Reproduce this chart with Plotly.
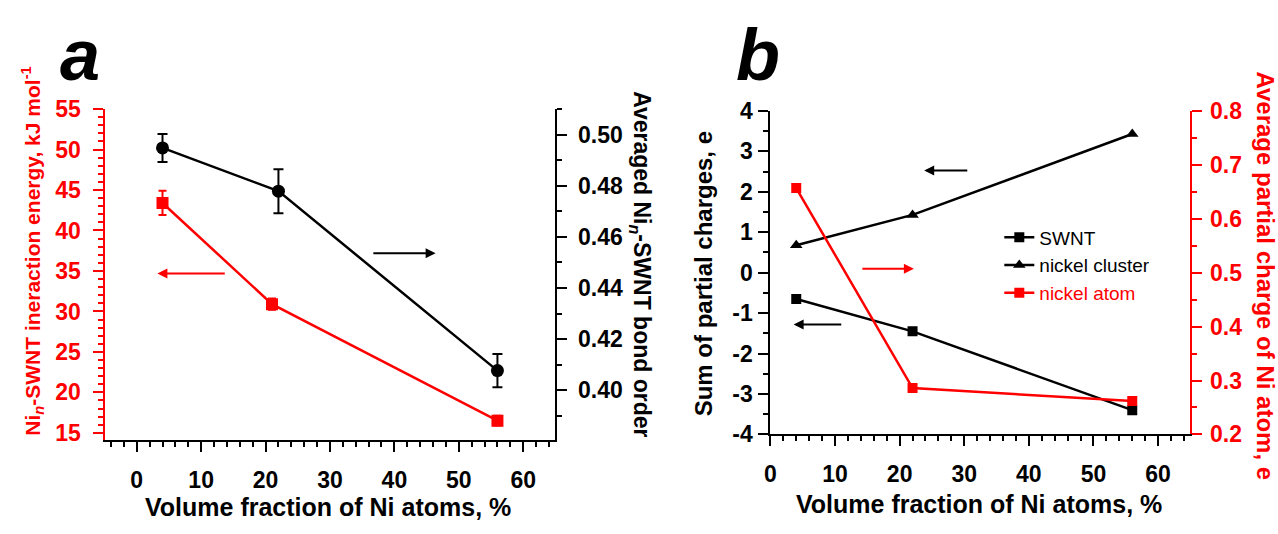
import plotly.graph_objects as go

# ---------------- data ----------------
# panel a
a_x_energy = [4, 21, 56]
a_energy = [43.4, 30.9, 16.5]
a_energy_err = [1.5, 0.7, 0.6]
a_x_bond = [4, 22, 56]
a_bond = [0.4948, 0.4779, 0.4077]
a_bond_err = [0.0055, 0.0086, 0.0065]

# panel b
b_x = [4, 22, 56]
b_swnt = [-0.65, -1.45, -3.40]
b_cluster = [0.68, 1.43, 3.43]
b_atom = [0.657, 0.286, 0.262]

x_ticks = [0, 10, 20, 30, 40, 50, 60]
a_left_ticks = [15, 20, 25, 30, 35, 40, 45, 50, 55]
a_right_ticks = [0.38, 0.40, 0.42, 0.44, 0.46, 0.48, 0.50]
b_left_ticks = [-4, -3, -2, -1, 0, 1, 2, 3, 4]
b_right_ticks = [0.2, 0.3, 0.4, 0.5, 0.6, 0.7, 0.8]

FONT = "Liberation Sans, Arial, sans-serif"
RED = "#ff0000"
BLK = "#000000"

W, H = 1278, 534


def sx(p):  # screen x pixel -> paper
    return p / W


def sy(p):  # screen y pixel -> paper
    return 1 - p / H


fig = go.Figure()

# ---- panel a ----
fig.add_trace(go.Scatter(
    x=a_x_energy, y=a_energy, mode="lines+markers",
    line=dict(color=RED, width=2.5),
    marker=dict(symbol="square", size=12, color=RED),
    error_y=dict(type="data", array=a_energy_err, color=RED, thickness=2, width=4),
    xaxis="x", yaxis="y", showlegend=False))
fig.add_trace(go.Scatter(
    x=a_x_bond, y=a_bond, mode="lines+markers",
    line=dict(color=BLK, width=2.5),
    marker=dict(symbol="circle", size=13, color=BLK),
    error_y=dict(type="data", array=a_bond_err, color=BLK, thickness=2, width=5),
    xaxis="x", yaxis="y2", showlegend=False))

# ---- panel b ----
fig.add_trace(go.Scatter(
    x=b_x, y=b_swnt, mode="lines+markers", name="SWNT",
    line=dict(color=BLK, width=2.5),
    marker=dict(symbol="square", size=10, color=BLK),
    xaxis="x2", yaxis="y3"))
fig.add_trace(go.Scatter(
    x=b_x, y=b_cluster, mode="lines+markers", name="nickel cluster",
    line=dict(color=BLK, width=2.5),
    marker=dict(symbol="triangle-up", size=11, color=BLK),
    xaxis="x2", yaxis="y3"))
fig.add_trace(go.Scatter(
    x=b_x, y=b_atom, mode="lines+markers",
    name="<span style='color:#ff0000'>nickel atom</span>",
    line=dict(color=RED, width=2.5),
    marker=dict(symbol="square", size=10, color=RED),
    xaxis="x2", yaxis="y4"))

TICKSIZE = 23


def bold(vals, fmt):
    return ["<b>" + fmt.format(v) + "</b>" for v in vals]


def xax(domain, rng, anchor):
    return dict(
        domain=domain, range=rng, anchor=anchor,
        tickmode="array", tickvals=x_ticks, ticktext=bold(x_ticks, "{}"),
        showline=True, linecolor=BLK, linewidth=2,
        ticks="outside", ticklen=10, tickwidth=2, tickcolor=BLK,
        ticklabelstandoff=8,
        minor=dict(dtick=2, tick0=0, ticks="outside", ticklen=5, tickwidth=2, tickcolor=BLK),
        tickfont=dict(family=FONT, size=TICKSIZE, color=BLK),
        showgrid=False, zeroline=False, mirror=False)


def yax(domain, rng, vals, fmt, minor_dtick, tick0, color, side, anchor, standoff, overlaying=None):
    d = dict(
        domain=domain, range=rng, anchor=anchor, side=side,
        tickmode="array", tickvals=vals, ticktext=bold(vals, fmt),
        showline=True, linecolor=color, linewidth=2,
        ticks="outside", ticklen=10, tickwidth=2, tickcolor=color,
        ticklabelstandoff=standoff,
        minor=dict(dtick=minor_dtick, tick0=tick0, ticks="outside", ticklen=5, tickwidth=2, tickcolor=color),
        tickfont=dict(family=FONT, size=TICKSIZE, color=color),
        showgrid=False, zeroline=False, mirror=False)
    if overlaying:
        d["overlaying"] = overlaying
    return d


dom_ax = [sx(99), sx(552)]
dom_ay = [sy(449), sy(101)]
dom_bx = [sx(768), sx(1190)]
dom_by = [sy(443), sy(103)]

fig.update_layout(
    width=W, height=H,
    margin=dict(l=0, r=0, t=0, b=0),
    paper_bgcolor="white", plot_bgcolor="rgba(0,0,0,0)",
    font=dict(family=FONT, color=BLK),
    xaxis=xax(dom_ax, [-5, 65], "y"),
    yaxis=yax(dom_ay, [14.1, 55], a_left_ticks, "{}", 1, 15, RED, "left", "x", 7),
    yaxis2=yax(dom_ay, [0.3805, 0.51], a_right_ticks, "{:.2f}", 0.01, 0.38, BLK, "right", "x", 6,
               overlaying="y"),
    xaxis2=xax(dom_bx, [0, 65], "y3"),
    yaxis3=yax(dom_by, [-4, 4], b_left_ticks, "{}", 0.5, 0, BLK, "left", "x2", 1),
    yaxis4=yax(dom_by, [0.2, 0.8], b_right_ticks, "{:.1f}", 0.05, 0.2, RED, "right", "x2", 3,
               overlaying="y3"),
    legend=dict(x=sx(998), y=sy(216), xanchor="left", yanchor="top",
                bgcolor="rgba(0,0,0,0)", font=dict(family=FONT, size=19, color=BLK),
                tracegroupgap=0),
)

ann = []
# panel letters
ann.append(dict(text="<b><i>a</i></b>", x=sx(74), y=1, xref="paper", yref="paper",
                showarrow=False, font=dict(family=FONT, size=72, color=BLK),
                xanchor="center", yanchor="top"))
ann.append(dict(text="<b><i>b</i></b>", x=sx(756), y=1, xref="paper", yref="paper",
                showarrow=False, font=dict(family=FONT, size=72, color=BLK),
                xanchor="center", yanchor="top"))
# axis titles
ann.append(dict(text="<b>Volume fraction of Ni atoms, %</b>", x=sx(324), y=sy(519),
                xref="paper", yref="paper", showarrow=False,
                font=dict(family=FONT, size=25, color=BLK), xanchor="center", yanchor="middle"))
ann.append(dict(text="<b>Volume fraction of Ni atoms, %</b>", x=sx(978), y=sy(516),
                xref="paper", yref="paper", showarrow=False,
                font=dict(family=FONT, size=25, color=BLK), xanchor="center", yanchor="middle"))
ann.append(dict(text="<b>Ni<sub><i>n</i></sub>-SWNT ineraction energy, kJ mol<sup>-1</sup></b>",
                x=sx(27), y=sy(250), xref="paper", yref="paper", showarrow=False,
                textangle=-90, font=dict(family=FONT, size=21, color=RED),
                xanchor="center", yanchor="middle"))
ann.append(dict(text="<b>Averaged Ni<sub><i>n</i></sub>-SWNT bond order</b>",
                x=sx(638), y=sy(264), xref="paper", yref="paper", showarrow=False,
                textangle=90, font=dict(family=FONT, size=23, color=BLK),
                xanchor="center", yanchor="middle"))
ann.append(dict(text="<b>Sum of partial charges, e</b>",
                x=sx(701), y=sy(274), xref="paper", yref="paper", showarrow=False,
                textangle=-90, font=dict(family=FONT, size=24, color=BLK),
                xanchor="center", yanchor="middle"))
ann.append(dict(text="<b>Average partial charge of Ni atom, e</b>",
                x=sx(1265), y=sy(276), xref="paper", yref="paper", showarrow=False,
                textangle=90, font=dict(family=FONT, size=24, color=RED),
                xanchor="center", yanchor="middle"))

# arrows (indicating which axis each series belongs to)
arrows = [
    # (xref, yref, tail_x, tail_y, head_x, head_y, color)
    ("x", "y", 36.5, 37.2, 46.4, 37.2, BLK),
    ("x", "y", 13.9, 34.7, 3.2, 34.7, RED),
    ("x2", "y3", 30.7, 2.53, 23.8, 2.53, BLK),
    ("x2", "y3", 14.0, 0.10, 22.2, 0.10, RED),
    ("x2", "y3", 11.2, -1.28, 3.6, -1.28, BLK),
]
for xr, yr, tx, ty, hx, hy, c in arrows:
    ann.append(dict(x=hx, y=hy, ax=tx, ay=ty, xref=xr, yref=yr, axref=xr, ayref=yr,
                    showarrow=True, arrowhead=2, arrowsize=1, arrowwidth=2, arrowcolor=c, text=""))

fig.update_layout(annotations=ann)

# remove the browser's default 8px body margin so the figure fills the window exactly
fig.write_html("out.html", config={"displayModeBar": False},
               post_script="document.body.style.margin='0';")
